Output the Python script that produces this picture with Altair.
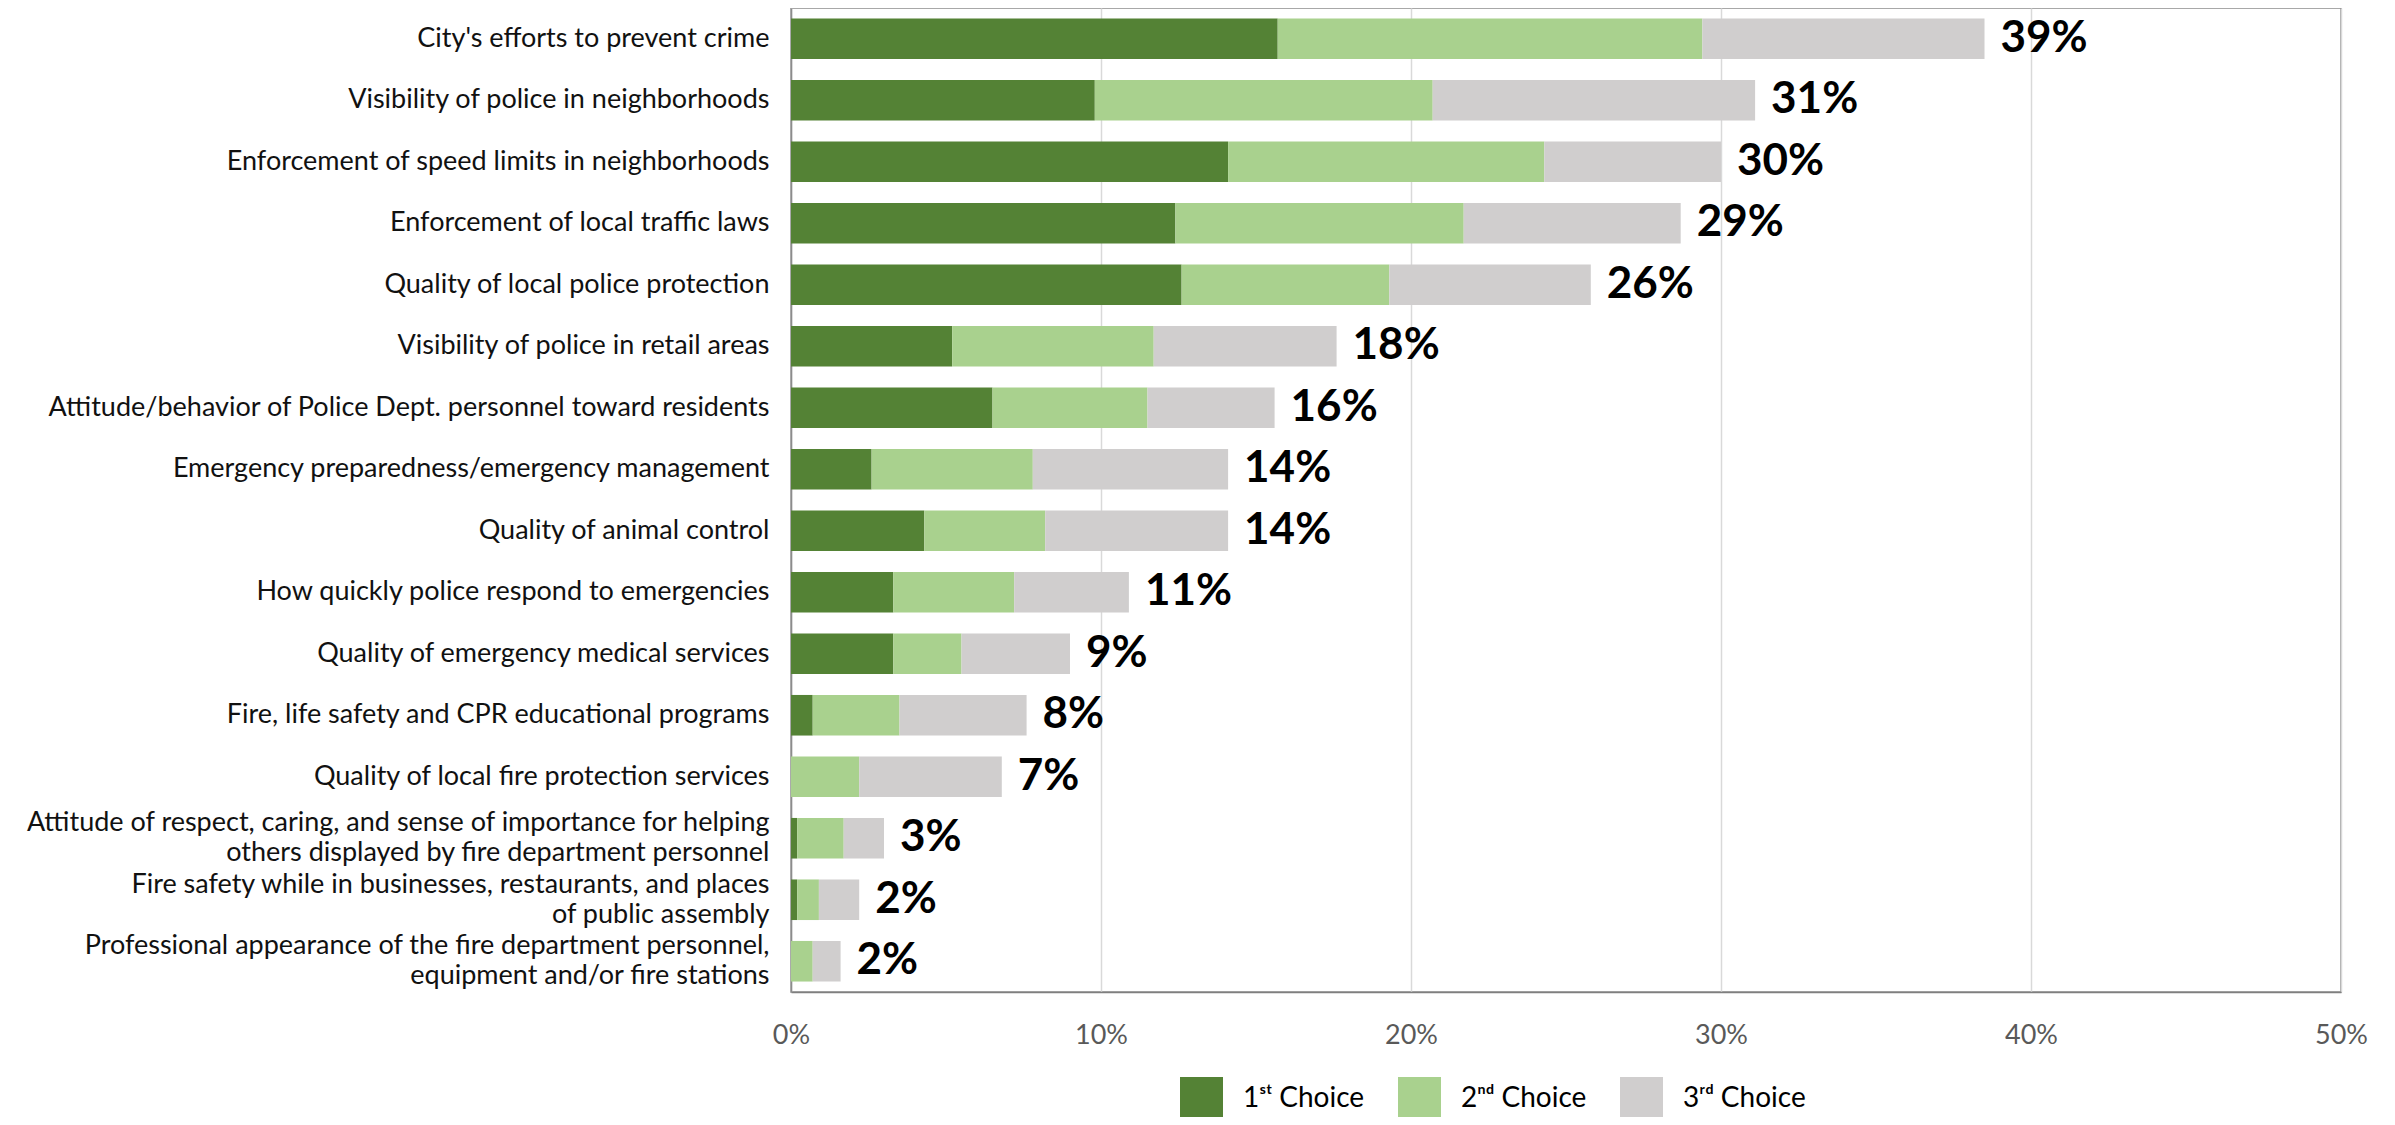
import altair as alt
import pandas as pd

categories = [
    "City's efforts to prevent crime",
    "Visibility of police in neighborhoods",
    "Enforcement of speed limits in neighborhoods",
    "Enforcement of local traffic laws",
    "Quality of local police protection",
    "Visibility of police in retail areas",
    "Attitude/behavior of Police Dept. personnel toward residents",
    "Emergency preparedness/emergency management",
    "Quality of animal control",
    "How quickly police respond to emergencies",
    "Quality of emergency medical services",
    "Fire, life safety and CPR educational programs",
    "Quality of local fire protection services",
    "Attitude of respect, caring, and sense of importance for helping|others displayed by fire department personnel",
    "Fire safety while in businesses, restaurants, and places|of public assembly",
    "Professional appearance of the fire department personnel,|equipment and/or fire stations",
]
first_choice = [15.7, 9.8, 14.1, 12.4, 12.6, 5.2, 6.5, 2.6, 4.3, 3.3, 3.3, 0.7, 0.0, 0.2, 0.2, 0.0]
second_choice = [13.7, 10.9, 10.2, 9.3, 6.7, 6.5, 5.0, 5.2, 3.9, 3.9, 2.2, 2.8, 2.2, 1.5, 0.7, 0.7]
third_choice = [9.1, 10.4, 5.7, 7.0, 6.5, 5.9, 4.1, 6.3, 5.9, 3.7, 3.5, 4.1, 4.6, 1.3, 1.3, 0.9]
total_labels = ["39%", "31%", "30%", "29%", "26%", "18%", "16%", "14%", "14%",
                "11%", "9%", "8%", "7%", "3%", "2%", "2%"]
series_names = ["1ˢᵗ Choice", "2ⁿᵈ Choice", "3ʳᵈ Choice"]
series_colors = ["#548235", "#A9D18E", "#D0CECE"]
x_ticks = [0, 10, 20, 30, 40, 50]

rows = []
for i, cat in enumerate(categories):
    for k, vals in enumerate([first_choice, second_choice, third_choice]):
        rows.append({"category": cat, "series": series_names[k], "order": k, "value": vals[i]})
df = pd.DataFrame(rows)

lab = pd.DataFrame({
    "category": categories,
    "total": [a + b + c for a, b, c in zip(first_choice, second_choice, third_choice)],
    "label": total_labels,
})

FONT = "Lato"

y_enc = alt.Y(
    "category:N",
    sort=categories,
    title=None,
    scale=alt.Scale(paddingInner=0.34, paddingOuter=0.17),
    axis=alt.Axis(
        labelExpr="split(datum.value, '|')",
        labelFontSize=27,
        labelFont=FONT,
        labelColor="#111111",
        labelLineHeight=30,
        labelPadding=22,
        labelLimit=800,
        labelOffset={"condition": {"test": "indexof(datum.value, '|') >= 0", "value": -15}, "value": 0},
        ticks=False,
        domainColor="#8c8c8c",
        domainWidth=1.5,
        grid=False,
    ),
)

bars = alt.Chart(df).mark_bar().encode(
    x=alt.X(
        "value:Q",
        stack="zero",
        title=None,
        scale=alt.Scale(domain=[0, 50], nice=False),
        axis=alt.Axis(
            values=x_ticks,
            labelExpr="datum.value + '%'",
            labelFontSize=27,
            labelFont=FONT,
            labelColor="#595959",
            labelPadding=30,
            labelFlush=False,
            ticks=False,
            grid=True,
            gridColor="#d9d9d9",
            gridWidth=1.5,
            domainColor="#7f7f7f",
            domainWidth=1.5,
        ),
    ),
    y=y_enc,
    color=alt.Color(
        "series:N",
        scale=alt.Scale(domain=series_names, range=series_colors),
        legend=alt.Legend(
            orient="none",
            legendX=389,
            legendY=1069,
            direction="horizontal",
            title=None,
            symbolType="square",
            symbolSize=1849,
            symbolStrokeWidth=0,
            symbolOpacity=1,
            labelFontSize=28,
            labelFont=FONT,
            labelColor="#000000",
            labelOffset=20,
            columnPadding=33,
        ),
    ),
    order=alt.Order("order:Q"),
)

texts = alt.Chart(lab).mark_text(
    align="left", baseline="middle", dx=16, fontSize=44, fontWeight="bold", font=FONT, color="#000000"
).encode(
    x=alt.X("total:Q"),
    y=alt.Y("category:N", sort=categories),
    text="label:N",
)

chart = alt.layer(bars, texts).properties(
    width=1550,
    height=984,
    padding={"left": 783, "top": 0, "right": 46, "bottom": 125},
    autosize=alt.AutoSizeParams(type="none"),
).configure_view(stroke="#8c8c8c", strokeWidth=1.5)

chart.save("out.html", embed_options={"renderer": "svg", "actions": False})
